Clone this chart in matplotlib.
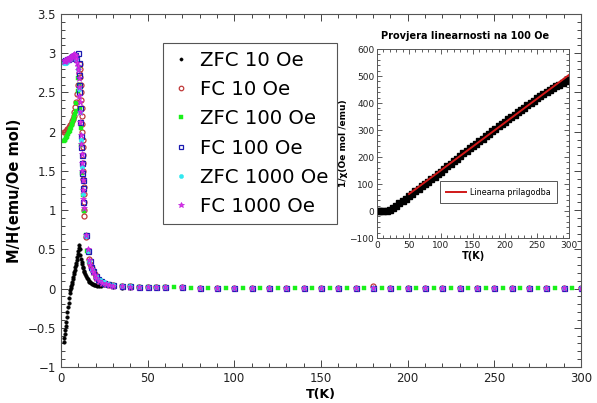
import matplotlib
matplotlib.use("Agg")
import matplotlib.pyplot as plt
from matplotlib.ticker import MultipleLocator, FuncFormatter

# ---- glavni graf: M/H (emu/Oe mol) u ovisnosti o T (K)
T_tail = [30, 35, 40, 45, 50, 55, 60, 70, 80, 90, 100, 110, 120, 130, 140, 150,
          160, 170, 180, 190, 200, 210, 220, 230, 240, 250, 260, 270, 280, 290, 300]
T_tail_zfc100 = [30, 35, 40, 45, 50, 55, 60, 65, 75, 85, 95, 105, 115, 125, 135, 145,
                 155, 165, 175, 185, 195, 205, 215, 225, 235, 245, 255, 265, 275, 285, 295]

zfc10_T = [1.7, 2.0, 2.3, 2.6, 2.9, 3.2, 3.5, 3.8, 4.1, 4.4, 4.7, 5.0, 5.3, 5.6, 5.9, 6.2,
           6.5, 6.8, 7.1, 7.4, 7.7, 8.0, 8.3, 8.6, 8.9, 9.2, 9.5, 9.8, 10.1, 10.4, 10.7,
           11.0, 11.3, 11.6, 11.9, 12.2, 12.5, 12.8, 13.2, 13.6, 14.0, 14.5, 15.0, 15.5,
           16.0, 16.5, 17.0, 17.5, 18.0, 18.5, 19.0, 19.5, 20.0, 21.0, 22.0, 23.0, 25.0]
zfc10_M = [-0.68, -0.63, -0.58, -0.53, -0.48, -0.42, -0.36, -0.30, -0.24, -0.18, -0.12,
           -0.06, -0.02, 0.01, 0.03, 0.06, 0.09, 0.12, 0.15, 0.18, 0.21, 0.24, 0.27, 0.30,
           0.33, 0.36, 0.40, 0.44, 0.48, 0.52, 0.56, 0.50, 0.43, 0.38, 0.34, 0.31, 0.28,
           0.26, 0.23, 0.21, 0.19, 0.16, 0.14, 0.12, 0.10, 0.09, 0.08, 0.07, 0.06, 0.055,
           0.05, 0.045, 0.04, 0.035, 0.03, 0.028, 0.04]
zfc10_tail = [0.014, 0.012, 0.010, 0.009, 0.008, 0.008, 0.007, 0.006, 0.006, 0.005, 0.005,
              0.005, 0.004, 0.004, 0.004, 0.004, 0.004, 0.003, 0.003, 0.003, 0.003, 0.003,
              0.003, 0.003, 0.003, 0.002, 0.002, 0.002, 0.002, 0.002, 0.002]

fc10_T = [1.8, 2.3, 2.8, 3.3, 3.8, 4.3, 4.8, 5.3, 5.8, 6.3, 6.8, 7.3, 7.8, 8.3, 8.8, 9.3,
          9.8, 10.3, 10.8, 11.0, 11.2, 11.4, 11.6, 11.8, 12.0, 12.2, 12.3, 12.4, 12.5,
          12.6, 12.7, 12.8, 12.9, 13.0, 13.1, 13.2, 13.3, 13.4, 13.5, 14.5, 15.5, 16.3,
          17.0, 17.8, 18.6, 19.5, 20.5, 22.0, 24.0, 26.0, 28.0]
fc10_M = [2.00, 2.00, 2.01, 2.02, 2.03, 2.04, 2.06, 2.08, 2.10, 2.13, 2.16, 2.20, 2.25,
          2.31, 2.38, 2.48, 2.60, 2.75, 2.86, 2.80, 2.70, 2.60, 2.50, 2.40, 2.30, 2.20,
          2.10, 2.00, 1.90, 1.80, 1.70, 1.60, 1.50, 1.40, 1.30, 1.20, 1.10, 1.00, 0.93,
          0.66, 0.48, 0.38, 0.31, 0.26, 0.22, 0.18, 0.14, 0.10, 0.075, 0.06, 0.05]
fc10_tail = [0.040, 0.032, 0.027, 0.024, 0.021, 0.019, 0.017, 0.015, 0.013, 0.012, 0.011,
             0.010, 0.010, 0.009, 0.009, 0.008, 0.008, 0.008, 0.030, 0.007, 0.007, 0.007,
             0.006, 0.006, 0.006, 0.006, 0.006, 0.005, 0.005, 0.005, 0.005]

zfc100_T = [1.8, 2.2, 2.6, 3.0, 3.4, 3.8, 4.2, 4.6, 5.0, 5.4, 5.8, 6.2, 6.6, 7.0, 7.4, 7.8,
            8.2, 8.6, 9.0, 9.6, 10.0, 10.4, 10.7, 11.0, 11.4, 11.8, 12.2, 12.8, 13.3,
            14.3, 15.3, 16.5, 18.0, 20.0, 23.0, 25.5, 27.5]
zfc100_M = [1.88, 1.89, 1.90, 1.92, 1.93, 1.95, 1.97, 1.99, 2.01, 2.03, 2.05, 2.08, 2.10,
            2.13, 2.16, 2.19, 2.22, 2.26, 2.36, 2.52, 2.68, 2.83, 2.60, 2.29, 2.05, 1.83,
            1.47, 1.19, 0.99, 0.68, 0.48, 0.34, 0.24, 0.15, 0.10, 0.07, 0.055]
zfc100_tail = [0.045, 0.035, 0.028, 0.024, 0.021, 0.019, 0.017, 0.015, 0.013, 0.012, 0.011,
               0.010, 0.010, 0.009, 0.009, 0.008, 0.008, 0.008, 0.007, 0.007, 0.007, 0.006,
               0.006, 0.006, 0.006, 0.005, 0.005, 0.005, 0.005, 0.005, 0.005]

fc100_T = [1.8, 2.6, 3.4, 4.2, 5.0, 5.8, 6.6, 7.4, 8.2, 9.0, 10.1, 10.3, 10.4, 10.5, 10.7,
           10.9, 11.2, 11.5, 11.7, 11.9, 12.1, 12.3, 12.5, 12.7, 13.0, 14.4, 15.6, 16.6,
           17.5, 18.5, 20.0, 21.5, 23.0, 25.0, 27.0]
fc100_M = [2.90, 2.91, 2.92, 2.93, 2.94, 2.95, 2.96, 2.97, 2.98, 2.93, 3.00, 2.87, 2.72,
           2.60, 2.50, 2.30, 2.12, 1.95, 1.80, 1.70, 1.60, 1.47, 1.38, 1.28, 1.10, 0.68,
           0.48, 0.35, 0.28, 0.22, 0.16, 0.12, 0.10, 0.07, 0.055]
fc100_tail = [0.040, 0.032, 0.027, 0.024, 0.021, 0.019, 0.017, 0.015, 0.013, 0.012, 0.011,
              0.010, 0.010, 0.009, 0.009, 0.008, 0.008, 0.008, 0.007, 0.007, 0.007, 0.007,
              0.006, 0.006, 0.006, 0.006, 0.006, 0.005, 0.005, 0.005, 0.005]

zfc1000_T = [1.8, 2.2, 2.6, 3.0, 3.4, 3.8, 4.2, 4.6, 5.0, 5.4, 5.8, 6.2, 6.6, 7.0, 7.4, 7.8,
             8.2, 9.0, 9.8, 10.4, 11.0, 11.6, 12.2, 12.8, 14.4, 15.5, 16.5, 18.0, 20.0,
             22.5, 25.0, 27.0]
zfc1000_M = [2.87, 2.87, 2.88, 2.88, 2.89, 2.90, 2.91, 2.92, 2.93, 2.94, 2.95, 2.96, 2.96,
             2.97, 2.98, 2.98, 2.98, 2.92, 2.80, 2.55, 2.25, 1.90, 1.55, 1.20, 0.67, 0.48,
             0.35, 0.24, 0.15, 0.11, 0.08, 0.06]
zfc1000_tail = [0.040, 0.032, 0.027, 0.024, 0.021, 0.019, 0.017, 0.015, 0.013, 0.012,
                0.011, 0.010, 0.010, 0.009, 0.009, 0.008, 0.008, 0.008, 0.007, 0.007,
                0.007, 0.007, 0.006, 0.006, 0.006, 0.006, 0.006, 0.005, 0.005, 0.005, 0.005]

fc1000_T = [1.8, 2.2, 2.6, 3.0, 3.4, 3.8, 4.2, 4.6, 5.0, 5.4, 5.8, 6.2, 6.6, 7.0, 7.4, 7.8,
            8.2, 8.6, 9.0, 9.4, 9.7, 10.0, 10.2, 10.4, 10.6, 10.8, 11.0, 11.3, 11.5, 11.7,
            11.9, 12.1, 12.3, 12.5, 12.7, 12.9, 13.1, 14.4, 15.4, 16.3, 17.0, 17.7, 18.5,
            19.4, 20.5, 22.0, 24.0, 26.0, 28.0]
fc1000_M = [2.90, 2.90, 2.91, 2.91, 2.92, 2.92, 2.93, 2.93, 2.94, 2.95, 2.95, 2.96, 2.97,
            2.98, 2.98, 2.99, 2.98, 2.96, 2.93, 2.88, 2.84, 2.78, 2.68, 2.57, 2.46, 2.38,
            2.25, 2.12, 1.96, 1.84, 1.72, 1.60, 1.50, 1.38, 1.26, 1.14, 1.03, 0.68, 0.50,
            0.37, 0.30, 0.25, 0.21, 0.17, 0.13, 0.10, 0.07, 0.055, 0.045]
fc1000_tail = [0.035, 0.030, 0.025, 0.022, 0.020, 0.018, 0.016, 0.014, 0.013, 0.012, 0.011,
               0.010, 0.010, 0.009, 0.009, 0.008, 0.008, 0.008, 0.007, 0.007, 0.007, 0.007,
               0.006, 0.006, 0.006, 0.006, 0.006, 0.005, 0.005, 0.005, 0.005]

# ---- umetak: 1/chi na 100 Oe
inv_T = [2, 5, 10, 15, 20, 25, 30, 35, 40, 45, 50, 55, 60, 65, 70, 75, 80, 85, 90, 95, 100,
         105, 110, 115, 120, 125, 130, 135, 140, 145, 150, 155, 160, 165, 170, 175, 180,
         185, 190, 195, 200, 205, 210, 215, 220, 225, 230, 235, 240, 245, 250, 255, 260,
         265, 270, 275, 280, 285, 290, 295, 300]
inv_chi = [-1, -1, -1, 0, 4, 11, 19, 28, 37, 46, 55, 64, 73, 82, 91, 100, 109, 118, 127,
           137, 146, 156, 165, 175, 184, 194, 203, 213, 222, 232, 241, 250, 259, 268, 277,
           286, 295, 304, 313, 322, 331, 340, 348, 357, 366, 375, 383, 392, 400, 409, 417,
           425, 433, 441, 448, 455, 462, 468, 474, 480, 486]
fit_T = [50, 300]
fit_val = [63, 504]

series = [
    ("ZFC 10 Oe", zfc10_T + T_tail, zfc10_M + zfc10_tail,
     dict(marker="o", ms=2.6, mfc="black", mec="black", mew=0.3)),
    ("FC 10 Oe", fc10_T + T_tail, fc10_M + fc10_tail,
     dict(marker="o", ms=3.6, mfc="none", mec="#c03a3a", mew=0.9)),
    ("ZFC 100 Oe", zfc100_T + T_tail_zfc100, zfc100_M + zfc100_tail,
     dict(marker="s", ms=3.4, mfc="#19f019", mec="#19f019", mew=0.3)),
    ("FC 100 Oe", fc100_T + T_tail, fc100_M + fc100_tail,
     dict(marker="s", ms=3.6, mfc="none", mec="#1a1ab0", mew=0.9)),
    ("ZFC 1000 Oe", zfc1000_T + T_tail, zfc1000_M + zfc1000_tail,
     dict(marker="o", ms=3.4, mfc="#30e8f0", mec="#30e8f0", mew=0.3)),
    ("FC 1000 Oe", fc1000_T + T_tail, fc1000_M + fc1000_tail,
     dict(marker="*", ms=4.8, mfc="#e030e0", mec="#c020e0", mew=0.5)),
]

plt.rcParams['font.family'] = ['DejaVu Sans']
fig = plt.figure(figsize=(5.97, 4.03), dpi=100)
ax = fig.add_axes([0.102, 0.0893, 0.871, 0.876])

for label, t, m, style in series:
    ax.plot(t, m, linestyle="none", label=label, **style)

ax.set_xlim(0, 300)
ax.set_ylim(-1, 3.5)
ax.xaxis.set_major_locator(MultipleLocator(50))
ax.xaxis.set_minor_locator(MultipleLocator(10))
ax.yaxis.set_major_locator(MultipleLocator(0.5))
ax.yaxis.set_minor_locator(MultipleLocator(0.1))
fmt = FuncFormatter(lambda v, _: f"{v:g}".replace("-", "\u2212"))
ax.yaxis.set_major_formatter(fmt)
ax.tick_params(which="both", direction="in", top=True, right=True, colors="#444444",
               labelcolor="#222222", labelsize=8.5, width=0.7)
ax.tick_params(which="major", length=5)
ax.tick_params(which="minor", length=3)
for s in ax.spines.values():
    s.set_color("#555555")
    s.set_linewidth(0.8)
ax.set_xlabel("T(K)", fontsize=9, fontweight="bold", labelpad=2)
ax.set_ylabel("M/H(emu/Oe mol)", fontsize=10.5, fontweight="bold", labelpad=4)

leg = ax.legend(loc="upper left", bbox_to_anchor=(0.196, 0.918), fontsize=14.2,
                frameon=True, fancybox=False, framealpha=1, edgecolor="#555555",
                handlelength=1.0, handletextpad=0.5, labelspacing=0.52,
                borderpad=0.4, borderaxespad=0, markerscale=0.9)
leg.get_frame().set_linewidth(0.8)

# ---- umetak
ins = fig.add_axes([0.6315, 0.4094, 0.3216, 0.469])
ins.plot(inv_T, inv_chi, linestyle="none", marker="s", ms=3.9, color="black")
ins.plot(fit_T, fit_val, color="#d01818", lw=1.4, label="Linearna prilagodba")
ins.set_xlim(0, 300)
ins.set_ylim(-100, 600)
ins.xaxis.set_major_locator(MultipleLocator(50))
ins.xaxis.set_minor_locator(MultipleLocator(10))
ins.yaxis.set_major_locator(MultipleLocator(100))
ins.yaxis.set_minor_locator(MultipleLocator(20))
ins.yaxis.set_major_formatter(fmt)
ins.tick_params(which="both", direction="in", top=True, right=True, colors="#444444",
                labelcolor="#222222", labelsize=6.5, width=0.6, pad=2)
ins.tick_params(which="major", length=3.5)
ins.tick_params(which="minor", length=2)
for s in ins.spines.values():
    s.set_color("#555555")
    s.set_linewidth(0.7)
ins.set_xlabel("T(K)", fontsize=7, fontweight="bold", labelpad=1)
ins.set_ylabel("1/\u03c7(Oe mol /emu)", fontsize=6.5, fontweight="bold", labelpad=1)
ins.set_title("Provjera linearnosti na 100 Oe", fontsize=7, fontweight="bold",
              x=0.46, pad=7)
leg2 = ins.legend(loc="lower right", bbox_to_anchor=(0.9375, 0.185), fontsize=5.8,
                  frameon=True, fancybox=False, framealpha=1, edgecolor="#555555",
                  handlelength=2.4, handletextpad=0.5, borderpad=0.8, borderaxespad=0)
leg2.get_frame().set_linewidth(0.7)

fig.savefig("out.png", dpi=100)
